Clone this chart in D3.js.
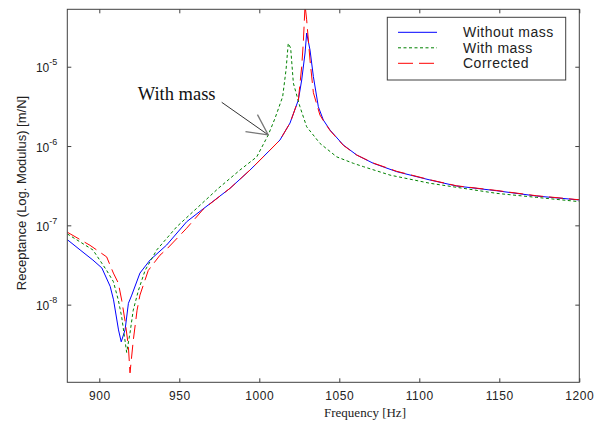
<!DOCTYPE html>
<html>
<head>
<meta charset="utf-8">
<script src="https://cdn.jsdelivr.net/npm/d3@7"></script>
<style>
  body { margin: 0; background: #fff; }
  svg { display: block; }
</style>
</head>
<body>
<div id="container"></div>
<script>
let w = 608;
let h = 428;

// frequency [Hz] and receptance [m/N]
let freqBlue = [880, 888, 896, 901.6, 906.8, 908.9, 912, 913.7, 916.1, 918.2, 920.3, 925.4, 931.7, 942.1, 954.6, 962.9, 981.7, 994.2, 1006.7, 1012.9, 1019.2, 1024.4, 1026.5, 1028.6, 1029.6, 1031.7, 1033.8, 1036.9, 1040, 1044.2, 1052.5, 1060.9, 1071.3, 1085.9, 1106.7, 1123.4, 1148.4, 1173.4, 1200];
let withoutMass = [6.6e-8, 4.9e-8, 3.65e-8, 2.9e-8, 1.7e-8, 1.15e-8, 4.8e-9, 3.4e-9, 4.8e-9, 1.04e-8, 1.32e-8, 2.5e-8, 3.65e-8, 5.65e-8, 1.11e-7, 1.5e-7, 2.93e-7, 4.98e-7, 8.9e-7, 1.19e-6, 1.95e-6, 3.8e-6, 6.8e-6, 1.49e-5, 2.66e-5, 1.62e-5, 7.5e-6, 3.13e-6, 2.13e-6, 1.59e-6, 1.03e-6, 7.7e-7, 6.05e-7, 4.75e-7, 3.73e-7, 3.13e-7, 2.73e-7, 2.34e-7, 2.09e-7];

let freqGreen = [880, 896, 904.6, 908.8, 911.9, 914, 916, 917.1, 919.2, 921.2, 924.4, 928.6, 935.9, 948.4, 974.4, 987.9, 998.4, 1005.6, 1009.8, 1014.6, 1016.7, 1018.1, 1019.6, 1021.3, 1025.4, 1029.6, 1037.9, 1048.4, 1058.8, 1065, 1081.7, 1106.7, 1127.5, 1148.4, 1173.4, 1200];
let withMass = [7.8e-8, 4.9e-8, 2.7e-8, 1.95e-8, 1.14e-8, 7.0e-9, 3.6e-9, 2.5e-9, 4.4e-9, 8.5e-9, 1.5e-8, 2.7e-8, 4.9e-8, 9.6e-8, 2.93e-7, 4.98e-7, 7.3e-7, 1.38e-6, 2.23e-6, 4.19e-6, 9.1e-6, 1.97e-5, 1.72e-5, 6.2e-6, 3.13e-6, 1.75e-6, 1.08e-6, 7.3e-7, 6.05e-7, 5.5e-7, 4.3e-7, 3.39e-7, 2.93e-7, 2.53e-7, 2.25e-7, 1.99e-7];

let freqRed = [880, 894.2, 904.6, 908.8, 911.9, 914, 916, 918.1, 919.2, 921.2, 923.6, 925.4, 930.6, 937.9, 942.1, 954.6, 965, 981.7, 994.2, 1006.7, 1012.9, 1019.2, 1024.4, 1026.5, 1027.5, 1028.6, 1029.6, 1031.7, 1033.8, 1037.9, 1040, 1044.2, 1052.5, 1060.9, 1071.3, 1085.9, 1106.7, 1123.4, 1148.4, 1173.4, 1200];
let corrected = [8.2e-8, 5.6e-8, 4.0e-8, 2.5e-8, 1.87e-8, 1.14e-8, 6.4e-9, 3.1e-9, 1.38e-9, 3.5e-9, 8.5e-9, 1.32e-8, 2.7e-8, 4.2e-8, 5.0e-8, 9.2e-8, 1.6e-7, 2.93e-7, 4.98e-7, 8.9e-7, 1.19e-6, 1.95e-6, 3.8e-6, 1.0e-5, 2.0e-5, 6.0e-5, 3.9e-5, 1.21e-5, 4.7e-6, 2.46e-6, 2.1e-6, 1.57e-6, 1.02e-6, 7.7e-7, 6.1e-7, 4.8e-7, 3.75e-7, 3.15e-7, 2.75e-7, 2.36e-7, 2.1e-7];

let xTicks = [900, 950, 1000, 1050, 1100, 1150, 1200];
let yTicks = [1e-8, 1e-7, 1e-6, 1e-5];
let legendNames = ["Without mass", "With mass", "Corrected"];

let pLeft = 67.3, pRight = 579.3, pTop = 9.3, pBottom = 382.3;

let viz = d3.select("#container").append("svg")
    .attr("width", w)
    .attr("height", h);

let x = d3.scaleLinear().domain([880, 1200]).range([pLeft, pRight]);
let y = d3.scaleLog().domain([Math.pow(10, -8.979), Math.pow(10, -4.276)]).range([pBottom, pTop]);

viz.append("clipPath").attr("id", "plotclip")
  .append("rect")
    .attr("x", pLeft).attr("y", pTop)
    .attr("width", pRight - pLeft).attr("height", pBottom - pTop);

// curves
let line = d3.line()
    .x(d => x(d[0]))
    .y(d => y(d[1]));

let series = [
  {f: freqBlue, v: withoutMass, color: "#0000ff", dash: null},
  {f: freqGreen, v: withMass, color: "#008000", dash: "3,2.5"},
  {f: freqRed, v: corrected, color: "#ff0000", dash: "14,6"}
];

let curves = viz.append("g").attr("clip-path", "url(#plotclip)");
series.forEach(function(s){
  curves.append("path")
    .datum(s.f.map((f, i) => [f, s.v[i]]))
    .attr("d", line)
    .attr("fill", "none")
    .attr("stroke", s.color)
    .attr("stroke-width", 1)
    .attr("stroke-dasharray", s.dash);
});

// axes, ticks inward on all four sides
let axisColor = "#404040";

let xAxis = viz.append("g")
    .attr("transform", "translate(0," + pBottom + ")")
    .call(d3.axisBottom(x).tickValues(xTicks).tickSizeInner(-4).tickSizeOuter(0).tickPadding(9).tickFormat(d3.format("d")));
let xTop = viz.append("g")
    .attr("transform", "translate(0," + pTop + ")")
    .call(d3.axisTop(x).tickValues(xTicks).tickSizeInner(-4).tickSizeOuter(0).tickFormat(""));
let yAxis = viz.append("g")
    .attr("transform", "translate(" + pLeft + ",0)")
    .call(d3.axisLeft(y).tickValues(yTicks).tickSizeInner(-4).tickSizeOuter(0).tickPadding(14).tickFormat(""));
let yRight = viz.append("g")
    .attr("transform", "translate(" + pRight + ",0)")
    .call(d3.axisRight(y).tickValues(yTicks).tickSizeInner(-4).tickSizeOuter(0).tickFormat(""));

[xAxis, xTop, yAxis, yRight].forEach(function(a){
  a.select(".domain").remove();
  a.selectAll("line").attr("stroke", axisColor);
  a.selectAll("text")
    .attr("font-family", "Liberation Sans, Arial, sans-serif")
    .attr("font-size", 12)
    .attr("letter-spacing", 0.6)
    .attr("fill", "#222");
});

// frame
viz.append("rect")
    .attr("x", pLeft).attr("y", pTop)
    .attr("width", pRight - pLeft).attr("height", pBottom - pTop)
    .attr("fill", "none")
    .attr("stroke", axisColor)
    .attr("stroke-width", 1);

// y tick labels 10^n
yAxis.selectAll(".tick").each(function(d){
  let t = d3.select(this).append("text")
      .attr("x", -10)
      .attr("y", 5)
      .attr("text-anchor", "end")
      .attr("font-family", "Liberation Sans, Arial, sans-serif")
      .attr("font-size", 12)
      .attr("fill", "#222");
  t.append("tspan").text("10");
  t.append("tspan")
      .attr("font-size", 9)
      .attr("dy", -7)
      .text(Math.round(Math.log10(d)));
});

// axis titles
viz.append("text")
    .attr("x", 365)
    .attr("y", 417)
    .attr("text-anchor", "middle")
    .attr("font-family", "Liberation Serif, Times New Roman, serif")
    .attr("font-size", 13)
    .attr("fill", "#222")
    .text("Frequency [Hz]");

viz.append("text")
    .attr("transform", "translate(26,193) rotate(-90)")
    .attr("text-anchor", "middle")
    .attr("font-family", "Liberation Sans, Arial, sans-serif")
    .attr("font-size", 13)
    .attr("fill", "#222")
    .text("Receptance (Log. Modulus) [m/N]");

// legend
let lg = viz.append("g");
lg.append("rect")
    .attr("x", 387.3).attr("y", 17.3)
    .attr("width", 178.4).attr("height", 62.7)
    .attr("fill", "#fff")
    .attr("stroke", axisColor);
series.forEach(function(s, i){
  let ly = 32.3 + i * 15.5;
  lg.append("line")
    .attr("x1", 398).attr("x2", 437)
    .attr("y1", ly).attr("y2", ly)
    .attr("stroke", s.color)
    .attr("stroke-dasharray", s.dash ? (i == 2 ? "15,6" : "3,2.5") : null);
  lg.append("text")
    .attr("x", 463)
    .attr("y", ly + 5)
    .attr("font-family", "Liberation Sans, Arial, sans-serif")
    .attr("font-size", 14)
    .attr("letter-spacing", 0.5)
    .attr("fill", "#222")
    .text(legendNames[i]);
});

// annotation pointing at the "with mass" curve
let tipF = 1005.6, tipV = 1.38e-6;
let tailF = 976.5, tailV = 3.56e-6;
let tx = x(tipF), ty = y(tipV), sx = x(tailF), sy = y(tailV);
viz.append("line")
    .attr("x1", sx).attr("y1", sy).attr("x2", tx).attr("y2", ty)
    .attr("stroke", "#333").attr("stroke-width", 1);
let ang = Math.atan2(sy - ty, sx - tx);
[-0.47, 0.47].forEach(function(da){
  viz.append("line")
    .attr("x1", tx).attr("y1", ty)
    .attr("x2", tx + 23 * Math.cos(ang + da))
    .attr("y2", ty + 23 * Math.sin(ang + da))
    .attr("stroke", "#777").attr("stroke-width", 1.3);
});
viz.append("text")
    .attr("x", sx - 84)
    .attr("y", sy - 2)
    .attr("font-family", "Liberation Serif, Times New Roman, serif")
    .attr("font-size", 18.5)
    .attr("fill", "#111")
    .text("With mass");
</script>
</body>
</html>
